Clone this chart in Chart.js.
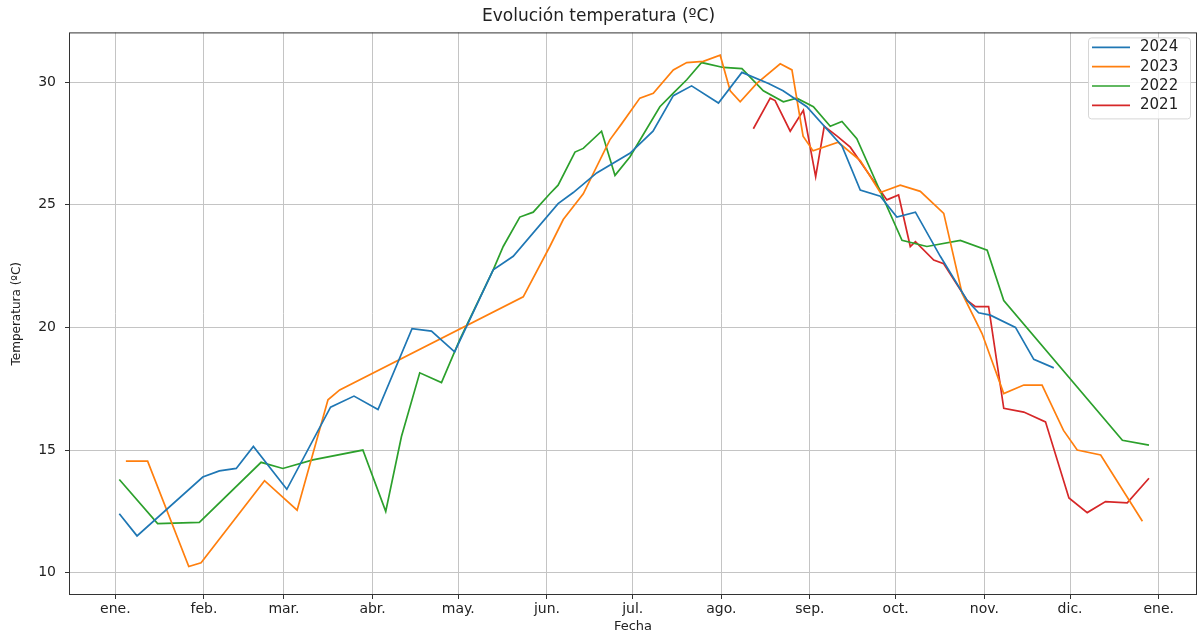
<!DOCTYPE html>
<html>
<head>
<meta charset="utf-8">
<script src="https://cdn.jsdelivr.net/npm/chart.js@4.4.0/dist/chart.umd.min.js"></script>
<style>
  html, body { margin: 0; padding: 0; background: #fff; }
</style>
</head>
<body>
<canvas id="canvas" width="1199" height="635"></canvas>
<script>
// month starts (day of year) and their labels
var monthDays = [0, 31, 59, 90, 120, 151, 181, 212, 243, 273, 304, 334, 365];
var monthLabels = ['ene.', 'feb.', 'mar.', 'abr.', 'may.', 'jun.', 'jul.', 'ago.', 'sep.', 'oct.', 'nov.', 'dic.', 'ene.'];
var yTicks = [10, 15, 20, 25, 30];

var days2024 = [1.4, 7.6, 30.6, 36.4, 42.3, 48.3, 60.0, 75.3, 83.5, 91.9, 103.8, 110.6, 118.7, 132.2, 139.2, 154.9, 160.2, 168.4, 180.0, 188.1, 195.2, 201.6, 211.0, 219.2, 228.5, 233.6, 241.9, 254.2, 260.6, 267.6, 273.4, 279.9, 288.6, 298.0, 302.0, 306.1, 314.9, 321.3, 328.3];
var temps2024 = [12.4, 11.5, 13.9, 14.15, 14.25, 15.15, 13.4, 16.75, 17.2, 16.65, 19.95, 19.85, 19.0, 22.35, 22.9, 25.05, 25.5, 26.3, 27.1, 28.0, 29.45, 29.85, 29.15, 30.4, 29.95, 29.65, 29.0, 27.4, 25.6, 25.35, 24.5, 24.7, 22.9, 21.1, 20.6, 20.5, 20.0, 18.7, 18.35];

var days2023 = [3.7, 11.3, 25.7, 30.0, 52.2, 63.6, 74.4, 78.5, 142.7, 152.0, 156.7, 163.7, 173.0, 177.1, 183.5, 188.2, 195.2, 199.9, 205.7, 211.6, 215.1, 218.6, 224.4, 232.6, 236.7, 240.6, 244.1, 252.9, 260.6, 267.6, 274.6, 281.6, 289.8, 296.2, 303.2, 310.8, 317.8, 324.2, 331.7, 336.5, 344.7, 359.3];
var temps2023 = [14.55, 14.55, 10.25, 10.4, 13.75, 12.55, 17.05, 17.45, 21.25, 23.3, 24.4, 25.45, 27.65, 28.3, 29.35, 29.55, 30.5, 30.8, 30.85, 31.1, 29.65, 29.2, 29.95, 30.75, 30.5, 27.8, 27.2, 27.55, 26.8, 25.5, 25.8, 25.55, 24.65, 21.4, 19.75, 17.3, 17.65, 17.65, 15.8, 15.0, 14.8, 12.1];

var days2022 = [1.4, 14.8, 29.4, 51.0, 58.6, 69.1, 86.6, 94.6, 100.1, 106.5, 114.1, 120.5, 132.2, 135.7, 141.5, 146.2, 152.0, 154.9, 160.8, 163.7, 170.1, 174.8, 180.0, 190.5, 195.2, 199.9, 205.1, 212.7, 219.2, 226.7, 233.7, 238.4, 244.2, 250.1, 254.2, 259.4, 275.2, 283.9, 295.6, 305.0, 310.8, 352.3, 361.6];
var temps2022 = [13.8, 12.0, 12.05, 14.5, 14.25, 14.6, 15.0, 12.5, 15.55, 18.15, 17.75, 19.5, 22.35, 23.3, 24.5, 24.7, 25.45, 25.8, 27.15, 27.3, 28.0, 26.2, 26.95, 29.0, 29.55, 30.1, 30.8, 30.6, 30.55, 29.65, 29.2, 29.35, 29.0, 28.2, 28.4, 27.7, 23.55, 23.3, 23.55, 23.15, 21.1, 15.4, 15.2];

var days2021 = [223.2, 229.1, 230.8, 236.1, 240.7, 245.0, 248.0, 252.5, 257.1, 269.9, 274.0, 278.1, 279.9, 286.3, 289.8, 298.0, 300.9, 305.5, 310.8, 317.8, 325.4, 333.6, 340.0, 346.4, 354.0, 361.6];
var temps2021 = [28.1, 29.35, 29.25, 28.0, 28.85, 26.15, 28.2, 27.8, 27.35, 25.2, 25.4, 23.3, 23.5, 22.75, 22.6, 21.1, 20.85, 20.85, 16.7, 16.55, 16.15, 13.05, 12.45, 12.9, 12.85, 13.85];

function pts(days, temps) {
    return days.map(function(d, i){ return {x: d, y: temps[i]}; });
}

function line(label, days, temps, color) {
    return {
        label: label,
        data: pts(days, temps),
        borderColor: color,
        backgroundColor: color,
        borderWidth: 1.7,
        pointRadius: 0,
        tension: 0,
        fill: false
    };
}

// matplotlib-like frame around the plot area
const framePlugin = {
    id: 'frame',
    afterDatasetsDraw(chart) {
        const ctx = chart.ctx, a = chart.chartArea;
        ctx.save();
        ctx.strokeStyle = '#333';
        ctx.lineWidth = 1;
        ctx.strokeRect(a.left + 0.5, a.top + 0.5, a.right - a.left - 1, a.bottom - a.top - 1);
        ctx.restore();
    }
};

// legend box in the upper right corner of the plot
const legendBox = {
    id: 'legendBox',
    afterDraw(chart) {
        const ctx = chart.ctx, a = chart.chartArea;
        const w = 102, h = 81;
        const x = a.right - 7 - w, y = a.top + 5;
        ctx.save();
        ctx.fillStyle = 'rgba(255,255,255,0.85)';
        ctx.strokeStyle = '#d6d6d6';
        ctx.lineWidth = 1;
        ctx.beginPath();
        ctx.roundRect(x + 0.5, y + 0.5, w, h, 3);
        ctx.fill();
        ctx.stroke();
        ctx.font = '15px "DejaVu Sans"';
        ctx.textBaseline = 'middle';
        chart.data.datasets.forEach(function(ds, i){
            const ly = y + 10 + i * 19.3;
            ctx.strokeStyle = ds.borderColor;
            ctx.lineWidth = 1.7;
            ctx.beginPath();
            ctx.moveTo(x + 4, ly);
            ctx.lineTo(x + 42, ly);
            ctx.stroke();
            ctx.fillStyle = '#222';
            ctx.fillText(ds.label, x + 52, ly);
        });
        ctx.restore();
    }
};

Chart.defaults.font.family = '"DejaVu Sans"';
Chart.defaults.color = '#222';

const ctx = document.getElementById('canvas').getContext('2d');
const myChart = new Chart(ctx, {
    type: 'line',
    data: {
        datasets: [
            line('2024', days2024, temps2024, '#1f77b4'),
            line('2023', days2023, temps2023, '#ff7f0e'),
            line('2022', days2022, temps2022, '#2ca02c'),
            line('2021', days2021, temps2021, '#d62728')
        ]
    },
    options: {
        responsive: false,
        animation: false,
        devicePixelRatio: 1,
        layout: { padding: { left: 0, right: 2, top: 0, bottom: 0 } },
        scales: {
            x: {
                type: 'linear',
                min: -16.2,
                max: 378.4,
                afterBuildTicks: function(scale) {
                    scale.ticks = monthDays.map(function(d){ return {value: d}; });
                },
                afterFit: function(scale) { scale.height = 40; },
                ticks: {
                    autoSkip: false,
                    maxRotation: 0,
                    padding: 2,
                    font: { size: 14 },
                    callback: function(value, index) { return monthLabels[index]; }
                },
                grid: { color: '#c4c4c4', lineWidth: 1, tickLength: 4, tickColor: '#333' },
                border: { display: false },
                title: { display: true, text: 'Fecha', font: { size: 13 }, padding: { top: 0, bottom: 1 } }
            },
            y: {
                min: 9.09,
                max: 32.03,
                afterBuildTicks: function(scale) {
                    scale.ticks = yTicks.map(function(v){ return {value: v}; });
                },
                afterFit: function(scale) { scale.width = 69; },
                ticks: {
                    padding: 9,
                    font: { size: 14 },
                    callback: function(value) { return value; }
                },
                grid: { color: '#c4c4c4', lineWidth: 1, tickLength: 4, tickColor: '#333' },
                border: { display: false },
                title: { display: true, text: 'Temperatura (ºC)', font: { size: 12 }, padding: { top: 10, bottom: 0 } }
            }
        },
        plugins: {
            legend: { display: false },
            tooltip: { enabled: false },
            title: {
                display: true,
                text: 'Evolución temperatura (ºC)',
                color: '#222',
                font: { size: 17, weight: 'normal' },
                padding: { top: 6, bottom: 6 }
            }
        }
    },
    plugins: [framePlugin, legendBox]
});
</script>
</body>
</html>
